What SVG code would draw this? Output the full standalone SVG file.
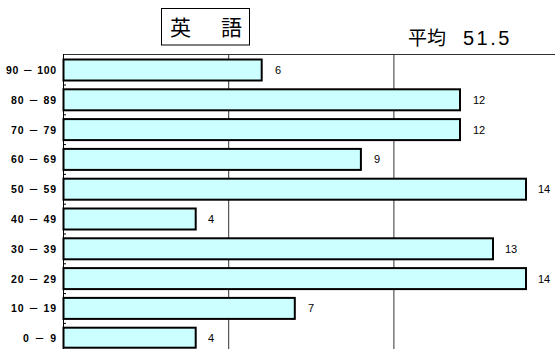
<svg xmlns="http://www.w3.org/2000/svg" width="555" height="349" viewBox="0 0 555 349">
<style>
.bar{fill:#CCFFFF;stroke:#000;stroke-width:2}
.grid{stroke:#333;stroke-width:1;fill:none}
.cat{font-family:"Liberation Sans","Noto Sans CJK JP",sans-serif;font-size:10.5px;font-weight:bold;text-anchor:end;fill:#000}
.val{font-family:"Liberation Sans",sans-serif;font-size:11px;fill:#000}
.title{font-family:"Noto Sans CJK JP",sans-serif;font-size:21px;fill:#000}
</style>
<rect width="555" height="349" fill="#fff"/>
<g id="title">
<rect x="161.5" y="8.5" width="88" height="36.5" fill="#fff" stroke="#000" stroke-width="1"/>
<text class="title" x="170" y="35">英</text>
<text class="title" x="221" y="35">語</text>
</g>
<g id="average">
<text x="408" y="45" font-family="'Noto Sans CJK JP',sans-serif" font-size="19px" fill="#000">平均</text>
<text x="463" y="45" font-family="'Liberation Sans',sans-serif" font-size="20px" letter-spacing="2.5" fill="#000">51.5</text>
</g>
<g id="axes">
<line class="grid" x1="63" y1="54.5" x2="555" y2="54.5"/>
<line class="grid" x1="228.7" y1="54" x2="228.7" y2="349"/>
<line class="grid" x1="393.9" y1="54" x2="393.9" y2="349"/>
<line x1="63.5" y1="54" x2="63.5" y2="349" stroke="#000" stroke-width="1"/>
<g stroke="#000" stroke-width="1">
<line x1="63.5" y1="85" x2="66" y2="85"/>
<line x1="63.5" y1="114.8" x2="66" y2="114.8"/>
<line x1="63.5" y1="144.6" x2="66" y2="144.6"/>
<line x1="63.5" y1="174.4" x2="66" y2="174.4"/>
<line x1="63.5" y1="204.2" x2="66" y2="204.2"/>
<line x1="63.5" y1="234" x2="66" y2="234"/>
<line x1="63.5" y1="263.8" x2="66" y2="263.8"/>
<line x1="63.5" y1="293.6" x2="66" y2="293.6"/>
<line x1="63.5" y1="323.4" x2="66" y2="323.4"/>
</g>
</g>
<g id="bar-90-100"><rect class="bar" x="63.5" y="59.5" width="198.2" height="21"/><text class="cat" x="56" y="74" textLength="50">90 － 100</text><text class="val" x="275" y="74">6</text></g>
<g id="bar-80-89"><rect class="bar" x="63.5" y="89.3" width="396.5" height="21"/><text class="cat" x="56" y="103.8" textLength="45">80 － 89</text><text class="val" x="473" y="103.8">12</text></g>
<g id="bar-70-79"><rect class="bar" x="63.5" y="119.1" width="396.5" height="21"/><text class="cat" x="56" y="133.6" textLength="45">70 － 79</text><text class="val" x="473" y="133.6">12</text></g>
<g id="bar-60-69"><rect class="bar" x="63.5" y="148.9" width="297.4" height="21"/><text class="cat" x="56" y="163.4" textLength="45">60 － 69</text><text class="val" x="374" y="163.4">9</text></g>
<g id="bar-50-59"><rect class="bar" x="63.5" y="178.7" width="462.5" height="21"/><text class="cat" x="56" y="193.2" textLength="45">50 － 59</text><text class="val" x="538" y="193.2">14</text></g>
<g id="bar-40-49"><rect class="bar" x="63.5" y="208.5" width="132.2" height="21"/><text class="cat" x="56" y="223" textLength="45">40 － 49</text><text class="val" x="208" y="223">4</text></g>
<g id="bar-30-39"><rect class="bar" x="63.5" y="238.3" width="429.5" height="21"/><text class="cat" x="56" y="252.8" textLength="45">30 － 39</text><text class="val" x="505" y="252.8">13</text></g>
<g id="bar-20-29"><rect class="bar" x="63.5" y="268.1" width="462.5" height="21"/><text class="cat" x="56" y="282.6" textLength="45">20 － 29</text><text class="val" x="538" y="282.6">14</text></g>
<g id="bar-10-19"><rect class="bar" x="63.5" y="297.9" width="231.3" height="21"/><text class="cat" x="56" y="312.4" textLength="45">10 － 19</text><text class="val" x="308" y="312.4">7</text></g>
<g id="bar-0-9"><rect class="bar" x="63.5" y="327.7" width="132.2" height="20"/><text class="cat" x="56" y="342" textLength="33">0 － 9</text><text class="val" x="208" y="342">4</text></g>
</svg>
